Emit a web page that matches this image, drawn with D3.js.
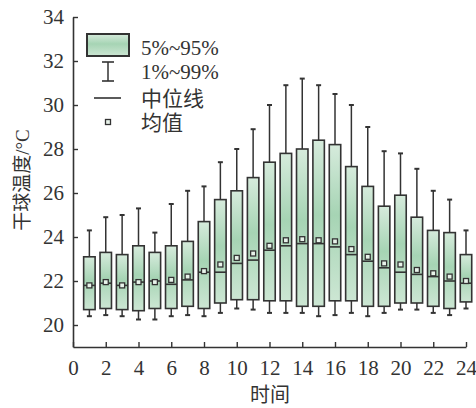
<!DOCTYPE html>
<html lang="zh">
<head>
    <meta charset="UTF-8">
    <title>干球温度箱线图</title>
    <script src="https://d3js.org/d3.v7.min.js"></script>
    <style>
        body { margin: 0; background: #fff; }
        text { fill: #333; }
    </style>
</head>
<body>
    <div id="chart"></div>

    <script>
        // Data
        const hours = [1, 2, 3, 4, 5, 6, 7, 8, 9, 10, 11, 12, 13, 14, 15, 16, 17, 18, 19, 20, 21, 22, 23, 24];
        const p99 = [24.3, 24.9, 25.0, 25.3, 24.2, 25.5, 26.1, 26.3, 27.4, 28.0, 28.9, 30.0, 30.9, 31.2, 30.9, 30.5, 30.0, 29.0, 27.9, 27.8, 27.1, 26.1, 25.7, 24.3];
        const p95 = [23.1, 23.3, 23.2, 23.6, 23.3, 23.6, 23.8, 24.7, 25.7, 26.1, 26.7, 27.4, 27.8, 28.0, 28.4, 28.2, 27.2, 26.3, 25.4, 25.9, 24.9, 24.3, 24.2, 23.2];
        const median = [21.8, 21.9, 21.8, 21.95, 22.0, 21.85, 22.05, 22.4, 22.4, 22.8, 22.95, 23.4, 23.6, 23.7, 23.7, 23.55, 23.2, 22.9, 22.6, 22.4, 22.3, 22.2, 22.0, 21.9];
        const mean = [21.8, 21.95, 21.8, 21.95, 21.95, 22.05, 22.2, 22.45, 22.75, 23.05, 23.25, 23.6, 23.85, 23.9, 23.85, 23.8, 23.45, 23.1, 22.8, 22.75, 22.5, 22.35, 22.2, 22.0];
        const p5 = [20.7, 20.75, 20.7, 20.65, 20.75, 20.75, 20.85, 20.75, 21.0, 21.15, 21.15, 21.1, 21.1, 20.85, 20.85, 21.1, 21.1, 20.85, 20.85, 21.0, 21.0, 20.85, 20.75, 21.05];
        const p1 = [20.4, 20.45, 20.4, 20.25, 20.25, 20.4, 20.45, 20.4, 20.55, 20.75, 20.7, 20.55, 20.55, 20.55, 20.4, 20.45, 20.55, 20.4, 20.55, 20.7, 20.7, 20.55, 20.45, 20.75];
        const xTicks = [0, 2, 4, 6, 8, 10, 12, 14, 16, 18, 20, 22, 24];
        const yTicks = [20, 22, 24, 26, 28, 30, 32, 34];
        const legendLabels = ["5%~95%", "1%~99%", "中位线", "均值"];

        const rows = hours.map((h, i) => ({
            hour: h, lo: p1[i], q1: p5[i], med: median[i], avg: mean[i], q3: p95[i], hi: p99[i]
        }));

        const svgWidth = 476;
        const svgHeight = 408;
        const margin = { top: 17, right: 10, bottom: 61, left: 73 };
        const width = svgWidth - margin.left - margin.right;
        const height = svgHeight - margin.top - margin.bottom;
        const ink = "#333";
        const numFont = "'Liberation Serif', 'Times New Roman', serif";
        const cjkFont = "'Liberation Serif', 'Noto Sans CJK SC', serif";

        const svg = d3.select("#chart")
            .append("svg")
            .attr("width", svgWidth)
            .attr("height", svgHeight);

        // box fill gradient
        const grad = svg.append("defs").append("linearGradient")
            .attr("id", "boxFill")
            .attr("x1", 0).attr("y1", 0).attr("x2", 0).attr("y2", 1);
        grad.append("stop").attr("offset", "0%").attr("stop-color", "#d6ebdc");
        grad.append("stop").attr("offset", "45%").attr("stop-color", "#a6d4b4");
        grad.append("stop").attr("offset", "100%").attr("stop-color", "#cce6d3");

        const g = svg.append("g")
            .attr("transform", `translate(${margin.left},${margin.top})`);

        const x = d3.scaleLinear().domain([0, 24]).range([0, width]);
        const y = d3.scaleLinear().domain([19, 34]).range([height, 0]);

        const boxW = (x(1) - x(0)) * 0.7;
        const capW = 5;

        // whiskers
        g.selectAll(".whisker")
            .data(rows)
            .enter().append("line")
            .attr("class", "whisker")
            .attr("x1", d => x(d.hour)).attr("x2", d => x(d.hour))
            .attr("y1", d => y(d.lo)).attr("y2", d => y(d.hi))
            .attr("stroke", ink).attr("stroke-width", 1.5);

        ["lo", "hi"].forEach(k => {
            g.selectAll(".cap-" + k)
                .data(rows)
                .enter().append("line")
                .attr("class", "cap-" + k)
                .attr("x1", d => x(d.hour) - capW / 2).attr("x2", d => x(d.hour) + capW / 2)
                .attr("y1", d => y(d[k])).attr("y2", d => y(d[k]))
                .attr("stroke", ink).attr("stroke-width", 2);
        });

        // boxes
        g.selectAll(".box")
            .data(rows)
            .enter().append("rect")
            .attr("class", "box")
            .attr("x", d => x(d.hour) - boxW / 2)
            .attr("y", d => y(d.q3))
            .attr("width", boxW)
            .attr("height", d => y(d.q1) - y(d.q3))
            .attr("fill", "url(#boxFill)")
            .attr("stroke", ink).attr("stroke-width", 1.6);

        // medians
        g.selectAll(".median")
            .data(rows)
            .enter().append("line")
            .attr("class", "median")
            .attr("x1", d => x(d.hour) - boxW / 2).attr("x2", d => x(d.hour) + boxW / 2)
            .attr("y1", d => y(d.med)).attr("y2", d => y(d.med))
            .attr("stroke", ink).attr("stroke-width", 1.6);

        // means
        g.selectAll(".mean")
            .data(rows)
            .enter().append("rect")
            .attr("class", "mean")
            .attr("x", d => x(d.hour) - 2.5)
            .attr("y", d => y(d.avg) - 2.5)
            .attr("width", 5).attr("height", 5)
            .attr("fill", "#e8f3ea")
            .attr("stroke", ink).attr("stroke-width", 1.3);

        // axes
        const xAxis = g.append("g")
            .attr("transform", `translate(0,${height})`)
            .call(d3.axisBottom(x).tickValues(xTicks).tickSizeInner(-5).tickSizeOuter(0).tickPadding(13));
        const yAxis = g.append("g")
            .call(d3.axisLeft(y).tickValues(yTicks).tickSizeInner(-5).tickSizeOuter(0).tickPadding(9));

        [xAxis, yAxis].forEach(a => {
            a.select(".domain").attr("stroke", ink).attr("stroke-width", 1.6);
            a.selectAll(".tick line").attr("stroke", ink).attr("stroke-width", 1.4);
            a.selectAll(".tick text")
                .style("font-family", numFont)
                .style("font-size", "21px")
                .attr("fill", ink);
        });

        // axis titles
        svg.append("text")
            .attr("x", 270)
            .attr("y", 402)
            .attr("text-anchor", "middle")
            .style("font-family", cjkFont)
            .style("font-size", "20px")
            .text("时间");

        svg.append("text")
            .attr("transform", "translate(29,180) rotate(-90)")
            .attr("text-anchor", "middle")
            .style("font-family", cjkFont)
            .style("font-size", "19px")
            .text("干球温度/°C");

        // legend
        const lg = svg.append("g");
        lg.append("rect")
            .attr("x", 87).attr("y", 34)
            .attr("width", 42).attr("height", 22)
            .attr("fill", "url(#boxFill)")
            .attr("stroke", ink).attr("stroke-width", 2);

        lg.append("line").attr("x1", 108).attr("x2", 108).attr("y1", 62).attr("y2", 81)
            .attr("stroke", ink).attr("stroke-width", 1.5);
        [62, 81].forEach(yy => lg.append("line")
            .attr("x1", 102).attr("x2", 114).attr("y1", yy).attr("y2", yy)
            .attr("stroke", ink).attr("stroke-width", 1.6));

        lg.append("line").attr("x1", 94).attr("x2", 121).attr("y1", 98).attr("y2", 98)
            .attr("stroke", ink).attr("stroke-width", 1.6);

        lg.append("rect").attr("x", 105.5).attr("y", 119.5).attr("width", 5).attr("height", 5)
            .attr("fill", "#e8f3ea").attr("stroke", ink).attr("stroke-width", 1.3);

        lg.selectAll(".leg-text")
            .data(legendLabels)
            .enter().append("text")
            .attr("class", "leg-text")
            .attr("x", 141)
            .attr("y", (d, i) => [48, 72, 99, 123][i])
            .attr("dy", "0.35em")
            .style("font-family", cjkFont)
            .style("font-size", "21px")
            .text(d => d);
    </script>
</body>
</html>
